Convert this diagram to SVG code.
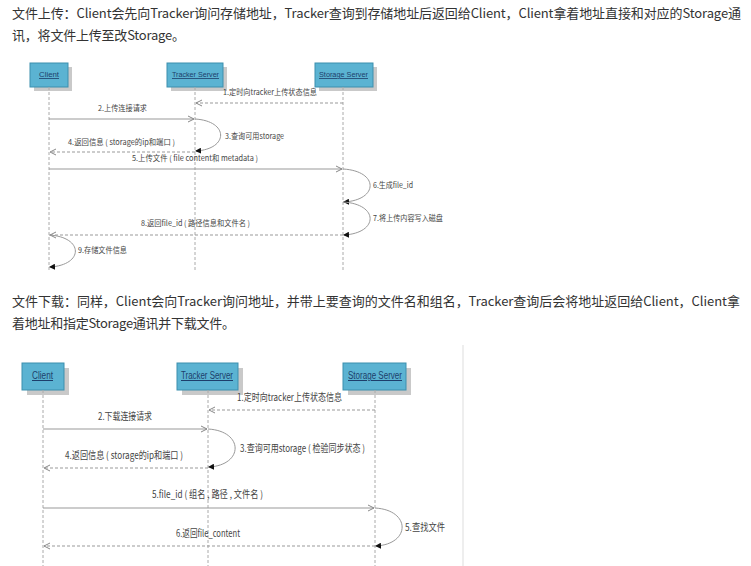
<svg xmlns="http://www.w3.org/2000/svg" width="751" height="566" viewBox="0 0 751 566">
<style>
.page{font-family:"Noto Sans CJK SC","Microsoft YaHei","Liberation Sans",sans-serif;font-size:13px;fill:#333}
.box{fill:#5bb3d2;stroke:#3d8fae;stroke-width:1}
.shadow{fill:#c9c9c9}
.bl{font-family:"Liberation Sans",sans-serif;fill:#1d3f6b;text-decoration:underline}
.life{stroke:#aaa;stroke-width:1;stroke-dasharray:3 2;fill:none}
.msg{stroke:#999;stroke-width:1;fill:none}
.ret{stroke:#999;stroke-width:1;fill:none;stroke-dasharray:3 2}
.lbl{font-family:"Noto Sans CJK SC","Liberation Sans",sans-serif;fill:#444}
.t{font-size:8px}
.b{font-size:10px}
</style>
<defs>
<marker id="open" markerWidth="8" markerHeight="8" refX="7" refY="4" orient="auto" markerUnits="userSpaceOnUse">
<path d="M1,1 L7,4 L1,7" fill="none" stroke="#888" stroke-width="1"/>
</marker>
<marker id="dot" markerWidth="6" markerHeight="6" refX="5" refY="3" orient="auto" markerUnits="userSpaceOnUse">
<path d="M0,0 L6,3 L0,6 Z" fill="#111"/>
</marker>
</defs>

<g id="page-text">
<text class="page" x="12" y="18" textLength="729">文件上传：Client会先向Tracker询问存储地址，Tracker查询到存储地址后返回给Client，Client拿着地址直接和对应的Storage通</text>
<text class="page" x="12" y="40" textLength="173">讯，将文件上传至改Storage。</text>
<text class="page" x="12" y="306" textLength="728">文件下载：同样，Client会向Tracker询问地址，并带上要查询的文件名和组名，Tracker查询后会将地址返回给Client，Client拿</text>
<text class="page" x="12" y="328" textLength="223">着地址和指定Storage通讯并下载文件。</text>
</g>

<line x1="463" y1="345" x2="463" y2="566" stroke="#ddd" stroke-width="1"/>

<!-- top diagram nodes -->
<g id="top-client">
<rect class="shadow" x="34" y="67" width="38" height="24"/>
<rect class="box" x="30" y="63" width="38" height="24"/>
<text class="bl t" x="39" y="77" textLength="20" lengthAdjust="spacingAndGlyphs">Client</text>
<line class="life" x1="49" y1="87" x2="49" y2="270"/>
</g>
<g id="top-tracker">
<rect class="shadow" x="171" y="67" width="56" height="24"/>
<rect class="box" x="167" y="63" width="56" height="24"/>
<text class="bl t" x="172" y="77" textLength="47" lengthAdjust="spacingAndGlyphs">Tracker Server</text>
<line class="life" x1="195" y1="87" x2="195" y2="270"/>
</g>
<g id="top-storage">
<rect class="shadow" x="319" y="67" width="58" height="24"/>
<rect class="box" x="315" y="63" width="58" height="24"/>
<text class="bl t" x="319" y="77" textLength="49" lengthAdjust="spacingAndGlyphs">Storage Server</text>
<line class="life" x1="343" y1="87" x2="343" y2="270"/>
</g>

<!-- bottom diagram nodes -->
<g id="bot-client">
<rect class="shadow" x="27" y="368" width="42" height="27"/>
<rect class="box" x="22" y="363" width="42" height="27"/>
<text class="bl b" x="32" y="379" textLength="21" lengthAdjust="spacingAndGlyphs">Client</text>
<line class="life" x1="43" y1="390" x2="43" y2="566"/>
</g>
<g id="bot-tracker">
<rect class="shadow" x="182" y="368" width="61" height="27"/>
<rect class="box" x="177" y="363" width="61" height="27"/>
<text class="bl b" x="181" y="379" textLength="52" lengthAdjust="spacingAndGlyphs">Tracker Server</text>
<line class="life" x1="208" y1="390" x2="208" y2="566"/>
</g>
<g id="bot-storage">
<rect class="shadow" x="348" y="368" width="63" height="27"/>
<rect class="box" x="343" y="363" width="63" height="27"/>
<text class="bl b" x="348" y="379" textLength="54" lengthAdjust="spacingAndGlyphs">Storage Server</text>
<line class="life" x1="375" y1="390" x2="375" y2="566"/>
</g>

<g id="connectors">
<!-- top -->
<line class="ret" x1="343" y1="103" x2="196" y2="103" marker-end="url(#open)"/>
<line class="msg" x1="49" y1="119" x2="194" y2="119" marker-end="url(#open)"/>
<path class="msg" d="M195,119 C229,121 229,149 196,151" marker-end="url(#dot)"/>
<line class="ret" x1="195" y1="152" x2="50" y2="152" marker-end="url(#open)"/>
<line class="msg" x1="49" y1="169" x2="342" y2="169" marker-end="url(#open)"/>
<path class="msg" d="M343,169 C379,171 379,200 344,202" marker-end="url(#dot)"/>
<path class="msg" d="M343,202 C379,204 379,233 344,235" marker-end="url(#dot)"/>
<line class="ret" x1="343" y1="235" x2="50" y2="235" marker-end="url(#open)"/>
<path class="msg" d="M49,235 C84,237 84,265 50,267" marker-end="url(#dot)"/>
<!-- bottom -->
<line class="ret" x1="375" y1="410" x2="209" y2="410" marker-end="url(#open)"/>
<line class="msg" x1="43" y1="429" x2="207" y2="429" marker-end="url(#open)"/>
<path class="msg" d="M208,429 C244,431 244,465 209,467" marker-end="url(#dot)"/>
<line class="ret" x1="208" y1="468" x2="44" y2="468" marker-end="url(#open)"/>
<line class="msg" x1="43" y1="508" x2="374" y2="508" marker-end="url(#open)"/>
<path class="msg" d="M375,508 C411,510 411,544 376,546" marker-end="url(#dot)"/>
<line class="ret" x1="375" y1="546" x2="44" y2="546" marker-end="url(#open)"/>
</g>

<g id="labels">
<text class="lbl t" x="223" y="95" textLength="94" lengthAdjust="spacingAndGlyphs">1.定时向tracker上传状态信息</text>
<text class="lbl t" x="98" y="111" textLength="49" lengthAdjust="spacingAndGlyphs">2.上传连接请求</text>
<text class="lbl t" x="225" y="139" textLength="59" lengthAdjust="spacingAndGlyphs">3.查询可用storage</text>
<text class="lbl t" x="68" y="145" textLength="107" lengthAdjust="spacingAndGlyphs">4.返回信息 ( storage的ip和端口 )</text>
<text class="lbl t" x="132" y="161" textLength="126" lengthAdjust="spacingAndGlyphs">5.上传文件 ( file content和 metadata )</text>
<text class="lbl t" x="373" y="188" textLength="40" lengthAdjust="spacingAndGlyphs">6.生成file_id</text>
<text class="lbl t" x="373" y="221" textLength="70" lengthAdjust="spacingAndGlyphs">7.将上传内容写入磁盘</text>
<text class="lbl t" x="141" y="226" textLength="109" lengthAdjust="spacingAndGlyphs">8.返回file_id ( 路径信息和文件名 )</text>
<text class="lbl t" x="78" y="253" textLength="49" lengthAdjust="spacingAndGlyphs">9.存储文件信息</text>

<text class="lbl b" x="237" y="401" textLength="105" lengthAdjust="spacingAndGlyphs">1.定时向tracker上传状态信息</text>
<text class="lbl b" x="98" y="420" textLength="54" lengthAdjust="spacingAndGlyphs">2.下载连接请求</text>
<text class="lbl b" x="240" y="452" textLength="125" lengthAdjust="spacingAndGlyphs">3.查询可用storage ( 检验同步状态 )</text>
<text class="lbl b" x="65" y="459" textLength="118" lengthAdjust="spacingAndGlyphs">4.返回信息 ( storage的ip和端口 )</text>
<text class="lbl b" x="152" y="498" textLength="111" lengthAdjust="spacingAndGlyphs">5.file_id ( 组名 , 路径 , 文件名 )</text>
<text class="lbl b" x="405" y="531" textLength="40" lengthAdjust="spacingAndGlyphs">5.查找文件</text>
<text class="lbl b" x="176" y="537" textLength="64" lengthAdjust="spacingAndGlyphs">6.返回file_content</text>
</g>
</svg>
